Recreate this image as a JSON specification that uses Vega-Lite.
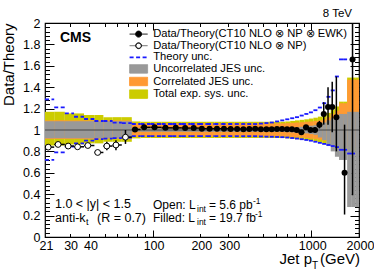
{
  "$schema": "https://vega.github.io/schema/vega-lite/v6.json",
  "width": 314,
  "height": 214,
  "autosize": {"type": "none"},
  "padding": {"left": 45, "top": 23, "right": 15, "bottom": 33},
  "config": {
    "view": {"stroke": "black", "strokeWidth": 1.2},
    "font": "Liberation Sans",
    "axis": {"grid": false, "domain": false, "labelFont": "Liberation Sans", "labelFontSize": 12.5, "labelColor": "black", "tickColor": "black", "tickWidth": 1, "titleFont": "Liberation Sans", "titleFontWeight": "normal", "titleColor": "black"}
  },
  "datasets": {
    "bins": [
      {"lo":21,"hi":24,"pt":22.0,"v":0.84,"el":0.83,"eh":0.85,"tu":1.287,"td":0.72,"yl":0.855,"yh":1.17,"ol":0.915,"oh":1.09,"gl":0.922,"gh":1.082,"s":"o"},
      {"lo":24,"hi":28,"pt":25.4,"v":0.865,"el":0.855,"eh":0.875,"tu":1.212,"td":0.79,"yl":0.855,"yh":1.17,"ol":0.915,"oh":1.09,"gl":0.922,"gh":1.082,"s":"o"},
      {"lo":28,"hi":32,"pt":29.4,"v":0.85,"el":0.84,"eh":0.86,"tu":1.156,"td":0.844,"yl":0.865,"yh":1.155,"ol":0.915,"oh":1.09,"gl":0.922,"gh":1.082,"s":"o"},
      {"lo":32,"hi":37,"pt":33.7,"v":0.843,"el":0.833,"eh":0.853,"tu":1.124,"td":0.875,"yl":0.865,"yh":1.155,"ol":0.915,"oh":1.09,"gl":0.922,"gh":1.082,"s":"o"},
      {"lo":37,"hi":43,"pt":39.1,"v":0.855,"el":0.845,"eh":0.865,"tu":1.103,"td":0.9,"yl":0.875,"yh":1.14,"ol":0.915,"oh":1.09,"gl":0.922,"gh":1.082,"s":"o"},
      {"lo":43,"hi":49,"pt":45.1,"v":0.79,"el":0.775,"eh":0.805,"tu":1.084,"td":0.915,"yl":0.875,"yh":1.14,"ol":0.915,"oh":1.09,"gl":0.922,"gh":1.082,"s":"o"},
      {"lo":49,"hi":56,"pt":51.5,"v":0.85,"el":0.81,"eh":0.89,"tu":1.084,"td":0.92,"yl":0.89,"yh":1.12,"ol":0.915,"oh":1.09,"gl":0.922,"gh":1.082,"s":"o"},
      {"lo":56,"hi":64,"pt":58.8,"v":0.86,"el":0.81,"eh":0.905,"tu":1.068,"td":0.925,"yl":0.89,"yh":1.12,"ol":0.915,"oh":1.09,"gl":0.922,"gh":1.082,"s":"o"},
      {"lo":64,"hi":74,"pt":67.5,"v":0.933,"el":0.87,"eh":1.0,"tu":1.065,"td":0.93,"yl":0.89,"yh":1.12,"ol":0.915,"oh":1.09,"gl":0.922,"gh":1.082,"s":"o"},
      {"lo":74,"hi":84,"pt":77.5,"v":1.005,"el":0.998,"eh":1.012,"tu":1.056,"td":0.942,"yl":0.922,"yh":1.08,"ol":0.937,"oh":1.063,"gl":0.983,"gh":1.017,"s":"f"},
      {"lo":84,"hi":97,"pt":88.5,"v":1.025,"el":1.019,"eh":1.031,"tu":1.056,"td":0.942,"yl":0.925,"yh":1.077,"ol":0.94,"oh":1.062,"gl":0.983,"gh":1.017,"s":"f"},
      {"lo":97,"hi":114,"pt":103,"v":1.025,"el":1.019,"eh":1.031,"tu":1.056,"td":0.942,"yl":0.925,"yh":1.077,"ol":0.94,"oh":1.062,"gl":0.983,"gh":1.017,"s":"f"},
      {"lo":114,"hi":133,"pt":120.6,"v":1.02,"el":1.014,"eh":1.026,"tu":1.056,"td":0.942,"yl":0.925,"yh":1.077,"ol":0.94,"oh":1.062,"gl":0.983,"gh":1.017,"s":"f"},
      {"lo":133,"hi":153,"pt":140,"v":1.02,"el":1.014,"eh":1.026,"tu":1.056,"td":0.942,"yl":0.925,"yh":1.077,"ol":0.94,"oh":1.062,"gl":0.983,"gh":1.017,"s":"f"},
      {"lo":153,"hi":174,"pt":160.4,"v":1.018,"el":1.012,"eh":1.024,"tu":1.056,"td":0.942,"yl":0.925,"yh":1.077,"ol":0.94,"oh":1.062,"gl":0.983,"gh":1.017,"s":"f"},
      {"lo":174,"hi":196,"pt":181.7,"v":1.018,"el":1.012,"eh":1.024,"tu":1.056,"td":0.942,"yl":0.925,"yh":1.077,"ol":0.94,"oh":1.062,"gl":0.983,"gh":1.017,"s":"f"},
      {"lo":196,"hi":220,"pt":204.4,"v":1.012,"el":1.006,"eh":1.018,"tu":1.056,"td":0.942,"yl":0.925,"yh":1.077,"ol":0.94,"oh":1.062,"gl":0.983,"gh":1.017,"s":"f"},
      {"lo":220,"hi":245,"pt":228.8,"v":1.012,"el":1.006,"eh":1.018,"tu":1.056,"td":0.942,"yl":0.925,"yh":1.077,"ol":0.94,"oh":1.062,"gl":0.983,"gh":1.017,"s":"f"},
      {"lo":245,"hi":272,"pt":254.5,"v":1.012,"el":1.006,"eh":1.018,"tu":1.056,"td":0.942,"yl":0.925,"yh":1.077,"ol":0.94,"oh":1.062,"gl":0.983,"gh":1.017,"s":"f"},
      {"lo":272,"hi":300,"pt":281.8,"v":1.012,"el":1.006,"eh":1.018,"tu":1.056,"td":0.942,"yl":0.925,"yh":1.077,"ol":0.94,"oh":1.062,"gl":0.983,"gh":1.017,"s":"f"},
      {"lo":300,"hi":330,"pt":310.5,"v":1.01,"el":1.004,"eh":1.016,"tu":1.056,"td":0.942,"yl":0.925,"yh":1.077,"ol":0.94,"oh":1.062,"gl":0.983,"gh":1.017,"s":"f"},
      {"lo":330,"hi":362,"pt":341.2,"v":1.01,"el":1.004,"eh":1.016,"tu":1.056,"td":0.942,"yl":0.925,"yh":1.077,"ol":0.94,"oh":1.062,"gl":0.983,"gh":1.017,"s":"f"},
      {"lo":362,"hi":395,"pt":373.6,"v":1.008,"el":1.002,"eh":1.014,"tu":1.056,"td":0.942,"yl":0.925,"yh":1.077,"ol":0.94,"oh":1.062,"gl":0.983,"gh":1.017,"s":"f"},
      {"lo":395,"hi":430,"pt":407.3,"v":1.01,"el":1.004,"eh":1.016,"tu":1.056,"td":0.942,"yl":0.925,"yh":1.077,"ol":0.94,"oh":1.062,"gl":0.983,"gh":1.017,"s":"f"},
      {"lo":430,"hi":468,"pt":443.3,"v":1.012,"el":1.006,"eh":1.018,"tu":1.056,"td":0.942,"yl":0.925,"yh":1.077,"ol":0.94,"oh":1.062,"gl":0.983,"gh":1.017,"s":"f"},
      {"lo":468,"hi":507,"pt":481.7,"v":1.006,"el":1.0,"eh":1.012,"tu":1.06,"td":0.94,"yl":0.925,"yh":1.077,"ol":0.94,"oh":1.062,"gl":0.983,"gh":1.017,"s":"f"},
      {"lo":507,"hi":548,"pt":521.4,"v":1.008,"el":1.002,"eh":1.014,"tu":1.065,"td":0.938,"yl":0.925,"yh":1.077,"ol":0.94,"oh":1.062,"gl":0.983,"gh":1.017,"s":"f"},
      {"lo":548,"hi":592,"pt":563.4,"v":1.008,"el":1.002,"eh":1.014,"tu":1.07,"td":0.937,"yl":0.925,"yh":1.077,"ol":0.94,"oh":1.062,"gl":0.983,"gh":1.017,"s":"f"},
      {"lo":592,"hi":638,"pt":608.1,"v":1.01,"el":1.004,"eh":1.016,"tu":1.08,"td":0.935,"yl":0.925,"yh":1.077,"ol":0.94,"oh":1.062,"gl":0.983,"gh":1.017,"s":"f"},
      {"lo":638,"hi":686,"pt":654.8,"v":1.01,"el":1.004,"eh":1.016,"tu":1.09,"td":0.933,"yl":0.925,"yh":1.077,"ol":0.94,"oh":1.062,"gl":0.983,"gh":1.017,"s":"f"},
      {"lo":686,"hi":737,"pt":703.9,"v":1.008,"el":1.002,"eh":1.014,"tu":1.1,"td":0.93,"yl":0.922,"yh":1.08,"ol":0.938,"oh":1.064,"gl":0.98,"gh":1.02,"s":"f"},
      {"lo":737,"hi":790,"pt":755.6,"v":1.006,"el":1.0,"eh":1.012,"tu":1.11,"td":0.925,"yl":0.918,"yh":1.085,"ol":0.935,"oh":1.067,"gl":0.978,"gh":1.022,"s":"f"},
      {"lo":790,"hi":846,"pt":809.6,"v":1.0,"el":0.993,"eh":1.007,"tu":1.12,"td":0.92,"yl":0.914,"yh":1.09,"ol":0.932,"oh":1.07,"gl":0.975,"gh":1.025,"s":"f"},
      {"lo":846,"hi":905,"pt":866.7,"v":0.978,"el":0.966,"eh":0.99,"tu":1.135,"td":0.914,"yl":0.91,"yh":1.095,"ol":0.93,"oh":1.073,"gl":0.972,"gh":1.03,"s":"f"},
      {"lo":905,"hi":967,"pt":926.7,"v":1.025,"el":1.01,"eh":1.04,"tu":1.15,"td":0.907,"yl":0.905,"yh":1.1,"ol":0.925,"oh":1.077,"gl":0.968,"gh":1.035,"s":"f"},
      {"lo":967,"hi":1032,"pt":989.8,"v":1.0,"el":0.98,"eh":1.02,"tu":1.165,"td":0.9,"yl":0.9,"yh":1.107,"ol":0.92,"oh":1.08,"gl":0.962,"gh":1.04,"s":"f"},
      {"lo":1032,"hi":1101,"pt":1056,"v":1.0,"el":0.975,"eh":1.025,"tu":1.185,"td":0.89,"yl":0.892,"yh":1.115,"ol":0.915,"oh":1.085,"gl":0.955,"gh":1.045,"s":"f"},
      {"lo":1101,"hi":1172,"pt":1126,"v":1.05,"el":1.015,"eh":1.085,"tu":1.21,"td":0.88,"yl":0.885,"yh":1.125,"ol":0.91,"oh":1.09,"gl":0.93,"gh":1.055,"s":"f"},
      {"lo":1172,"hi":1248,"pt":1199,"v":1.15,"el":1.05,"eh":1.26,"tu":1.25,"td":0.87,"yl":0.875,"yh":1.14,"ol":0.9,"oh":1.1,"gl":0.905,"gh":1.07,"s":"f"},
      {"lo":1248,"hi":1327,"pt":1276,"v":1.215,"el":1.05,"eh":1.4,"tu":1.31,"td":0.86,"yl":0.86,"yh":1.16,"ol":0.89,"oh":1.12,"gl":0.85,"gh":1.09,"s":"f"},
      {"lo":1327,"hi":1410,"pt":1356,"v":1.215,"el":0.98,"eh":1.45,"tu":1.37,"td":0.85,"yl":0.85,"yh":1.19,"ol":0.88,"oh":1.15,"gl":0.8,"gh":1.11,"s":"f"},
      {"lo":1410,"hi":1497,"pt":1440,"v":1.12,"el":0.8,"eh":1.5,"tu":1.5,"td":0.84,"yl":0.84,"yh":1.22,"ol":0.87,"oh":1.18,"gl":0.75,"gh":1.13,"s":"f"},
      {"lo":1497,"hi":1588,"pt":1529,"v":null,"el":null,"eh":null,"tu":1.66,"td":0.815,"yl":0.83,"yh":1.265,"ol":0.86,"oh":1.25,"gl":0.72,"gh":1.15,"s":"f"},
      {"lo":1588,"hi":1684,"pt":1622,"v":0.6,"el":0.21,"eh":1.05,"tu":1.66,"td":0.815,"yl":0.83,"yh":1.265,"ol":0.86,"oh":1.25,"gl":0.72,"gh":1.15,"s":"f"},
      {"lo":1684,"hi":1784,"pt":1719,"v":null,"el":null,"eh":null,"tu":null,"td":0.78,"yl":0.8,"yh":1.49,"ol":0.84,"oh":1.47,"gl":0.28,"gh":1.17,"s":"f"},
      {"lo":1784,"hi":1890,"pt":1821,"v":1.66,"el":0.39,"eh":2.95,"tu":null,"td":0.78,"yl":0.8,"yh":1.49,"ol":0.84,"oh":1.47,"gl":0.28,"gh":1.17,"s":"f"},
      {"lo":1890,"hi":2000,"pt":1940,"v":null,"el":null,"eh":null,"tu":null,"td":null,"yl":0.8,"yh":1.49,"ol":0.84,"oh":1.47,"gl":0.28,"gh":1.17,"s":"f"}
    ]
  },
  "resolve": {"axis": {"x": "independent", "y": "independent"}},
  "layer": [
    {
      "data": {"name": "bins"},
      "mark": {"type": "rect"},
      "encoding": {
        "x": {"field": "lo", "type": "quantitative", "scale": {"type": "log", "domain": [21, 2000], "nice": false},
              "axis": {"orient": "bottom", "values": [21, 30, 40, 100, 200, 300, 1000, 2000], "format": "d", "ticks": false, "labelFlush": false, "labelOverlap": false, "labelPadding": 2, "labelOffset": 1, "title": null}},
        "x2": {"field": "hi"},
        "y": {"field": "yl", "type": "quantitative", "scale": {"domain": [0, 2], "nice": false},
              "axis": {"orient": "left", "values": [0, 0.2, 0.4, 0.6, 0.8, 1, 1.2, 1.4, 1.6, 1.8, 2], "format": ".2~f", "ticks": false, "labelPadding": 5,
                       "title": "Data/Theory", "titleFontSize": 15, "titleAngle": -90, "titleAlign": "right", "titleBaseline": "middle", "titleX": -37, "titleY": 0}},
        "y2": {"field": "yh"},
        "color": {"datum": "Total exp. sys. unc.", "type": "nominal",
                  "scale": {"domain": ["Data/Theory(CT10 NLO ⊗ NP ⊗ EWK)", "Data/Theory(CT10 NLO ⊗ NP)", "Theory unc.", "Uncorrelated JES unc.", "Correlated JES unc.", "Total exp. sys. unc."],
                            "range": ["black", "black", "#1a1aff", "#999999", "#ff9933", "#cccc00"]},
                  "legend": {"orient": "none", "legendX": 88, "legendY": 5.5, "title": null, "padding": 0,
                             "labelFont": "Liberation Sans", "labelFontSize": 11.2, "labelColor": "black", "labelLimit": 400,
                             "symbolSize": 36, "rowPadding": -0.4, "labelOffset": 9,
                             "encode": {"symbols": {"update": {
                               "shape": {"signal": "datum.index == 2 ? 'M-3,0H3' : (datum.index > 2 ? 'M-3,-1.4H3V1.4H-3Z' : (datum.index == 1 ? 'M-3,0H-1M1,0H3M1,0A1,1,0,1,1,-1,0A1,1,0,1,1,1,0M0.85,0A0.85,0.85,0,1,0,-0.85,0A0.85,0.85,0,1,0,0.85,0' : 'M-3,0H-1M1,0H3M1,0A1,1,0,1,1,-1,0A1,1,0,1,1,1,0'))"},
                               "size": {"value": 36},
                               "fill": {"signal": "['black','black','transparent','#999999','#ff9933','#cccc00'][datum.index]"},
                               "stroke": {"signal": "['black','black','#1a1aff','#999999','#ff9933','#cccc00'][datum.index]"},
                               "strokeWidth": {"signal": "datum.index == 2 ? 1.8 : (datum.index == 1 ? 0.6 : 1)"},
                               "strokeDash": {"signal": "datum.index == 2 ? [4, 2.5] : [1, 0]"},
                               "opacity": {"value": 1},
                               "fillOpacity": {"value": 1}
                             }}}}}
      }
    },
    {
      "data": {"name": "bins"},
      "mark": {"type": "rect"},
      "encoding": {
        "x": {"field": "lo", "type": "quantitative", "axis": {"orient": "bottom", "values": [100, 1000], "labels": false, "tickSize": -7, "title": null}},
        "x2": {"field": "hi"},
        "y": {"field": "ol", "type": "quantitative", "axis": {"orient": "left", "values": [0, 0.2, 0.4, 0.6, 0.8, 1, 1.2, 1.4, 1.6, 1.8, 2], "labels": false, "tickSize": -9, "title": null}},
        "y2": {"field": "oh"},
        "color": {"datum": "Correlated JES unc.", "type": "nominal"}
      }
    },
    {
      "data": {"name": "bins"},
      "mark": {"type": "rect"},
      "encoding": {
        "x": {"field": "lo", "type": "quantitative", "axis": {"orient": "bottom", "values": [30, 40, 50, 60, 70, 80, 90, 200, 300, 400, 500, 600, 700, 800, 900, 2000], "labels": false, "tickSize": -3.5, "title": null}},
        "x2": {"field": "hi"},
        "y": {"field": "gl", "type": "quantitative", "axis": {"orient": "left", "values": [0.04,0.08,0.12,0.16,0.24,0.28,0.32,0.36,0.44,0.48,0.52,0.56,0.64,0.68,0.72,0.76,0.84,0.88,0.92,0.96,1.04,1.08,1.12,1.16,1.24,1.28,1.32,1.36,1.44,1.48,1.52,1.56,1.64,1.68,1.72,1.76,1.84,1.88,1.92,1.96], "labels": false, "tickSize": -4.5, "title": null}},
        "y2": {"field": "gh"},
        "color": {"datum": "Uncorrelated JES unc.", "type": "nominal"}
      }
    },
    {
      "data": {"values": [{}]},
      "mark": {"type": "rule", "color": "#444444", "strokeWidth": 1},
      "encoding": {"y": {"datum": 1, "type": "quantitative", "axis": null}}
    },
    {
      "data": {"name": "bins"},
      "mark": {"type": "rule", "strokeWidth": 1.8, "strokeDash": [4, 2.5]},
      "encoding": {
        "x": {"field": "lo", "type": "quantitative", "axis": {"orient": "top", "values": [100, 1000], "labels": false, "tickSize": -7, "title": null}},
        "x2": {"field": "hi"},
        "y": {"field": "tu", "type": "quantitative", "axis": {"orient": "right", "values": [0, 0.2, 0.4, 0.6, 0.8, 1, 1.2, 1.4, 1.6, 1.8, 2], "labels": false, "tickSize": -9, "title": null}},
        "color": {"datum": "Theory unc.", "type": "nominal"}
      }
    },
    {
      "data": {"name": "bins"},
      "mark": {"type": "rule", "strokeWidth": 1.8, "strokeDash": [4, 2.5]},
      "encoding": {
        "x": {"field": "lo", "type": "quantitative", "axis": {"orient": "top", "values": [30, 40, 50, 60, 70, 80, 90, 200, 300, 400, 500, 600, 700, 800, 900, 2000], "labels": false, "tickSize": -3.5, "title": null}},
        "x2": {"field": "hi"},
        "y": {"field": "td", "type": "quantitative", "axis": {"orient": "right", "values": [0.04,0.08,0.12,0.16,0.24,0.28,0.32,0.36,0.44,0.48,0.52,0.56,0.64,0.68,0.72,0.76,0.84,0.88,0.92,0.96,1.04,1.08,1.12,1.16,1.24,1.28,1.32,1.36,1.44,1.48,1.52,1.56,1.64,1.68,1.72,1.76,1.84,1.88,1.92,1.96], "labels": false, "tickSize": -4.5, "title": null}},
        "color": {"datum": "Theory unc.", "type": "nominal"}
      }
    },
    {
      "data": {"name": "bins"},
      "transform": [{"filter": "datum.v != null"}],
      "mark": {"type": "rule", "color": "black", "strokeWidth": 1.5, "clip": true},
      "encoding": {
        "x": {"field": "pt", "type": "quantitative", "axis": null},
        "y": {"field": "el", "type": "quantitative", "axis": null},
        "y2": {"field": "eh"}
      }
    },
    {
      "data": {"name": "bins"},
      "transform": [{"filter": "datum.v != null"}],
      "mark": {"type": "rule", "color": "black", "strokeWidth": 1.5},
      "encoding": {
        "x": {"field": "lo", "type": "quantitative", "axis": null},
        "x2": {"field": "hi"},
        "y": {"field": "v", "type": "quantitative", "axis": null}
      }
    },
    {
      "data": {"name": "bins"},
      "transform": [{"filter": "datum.v != null && datum.s == 'f'"}],
      "mark": {"type": "point", "shape": "circle", "filled": true, "size": 36, "opacity": 1},
      "encoding": {
        "x": {"field": "pt", "type": "quantitative", "axis": null},
        "y": {"field": "v", "type": "quantitative", "axis": null},
        "color": {"datum": "Data/Theory(CT10 NLO ⊗ NP ⊗ EWK)", "type": "nominal"}
      }
    },
    {
      "data": {"name": "bins"},
      "transform": [{"filter": "datum.v != null && datum.s == 'o'"}],
      "mark": {"type": "point", "shape": "circle", "filled": false, "fill": "white", "fillOpacity": 1, "strokeWidth": 1, "size": 34, "opacity": 1},
      "encoding": {
        "x": {"field": "pt", "type": "quantitative", "axis": null},
        "y": {"field": "v", "type": "quantitative", "axis": null},
        "color": {"datum": "Data/Theory(CT10 NLO ⊗ NP)", "type": "nominal"}
      }
    },
    {
      "data": {"values": [{}]},
      "mark": {"type": "text", "text": "CMS", "font": "Liberation Sans", "fontWeight": "bold", "fontSize": 14, "align": "left", "baseline": "alphabetic", "dx": 15, "dy": 19, "color": "black"},
      "encoding": {"x": {"datum": 21, "type": "quantitative", "axis": null}, "y": {"datum": 2, "type": "quantitative", "axis": null}}
    },
    {
      "data": {"values": [{}]},
      "mark": {"type": "text", "text": "8 TeV", "font": "Liberation Sans", "fontSize": 11.5, "align": "right", "baseline": "alphabetic", "dx": -7, "dy": -6, "color": "black"},
      "encoding": {"x": {"datum": 2000, "type": "quantitative", "axis": null}, "y": {"datum": 2, "type": "quantitative", "axis": null}}
    },
    {
      "data": {"values": [{}]},
      "mark": {"type": "text", "text": "1.0 < |y| < 1.5", "font": "Liberation Sans", "fontSize": 12.5, "align": "left", "baseline": "alphabetic", "dx": 10, "dy": -29, "color": "black"},
      "encoding": {"x": {"datum": 21, "type": "quantitative", "axis": null}, "y": {"datum": 0, "type": "quantitative", "axis": null}}
    },
    {
      "data": {"values": [{}]},
      "mark": {"type": "text", "text": "anti-k", "font": "Liberation Sans", "fontSize": 12.5, "align": "left", "baseline": "alphabetic", "dx": 10, "dy": -15, "color": "black"},
      "encoding": {"x": {"datum": 21, "type": "quantitative", "axis": null}, "y": {"datum": 0, "type": "quantitative", "axis": null}}
    },
    {
      "data": {"values": [{}]},
      "mark": {"type": "text", "text": "t", "font": "Liberation Sans", "fontSize": 9, "align": "left", "baseline": "alphabetic", "dx": 41, "dy": -12, "color": "black"},
      "encoding": {"x": {"datum": 21, "type": "quantitative", "axis": null}, "y": {"datum": 0, "type": "quantitative", "axis": null}}
    },
    {
      "data": {"values": [{}]},
      "mark": {"type": "text", "text": "(R = 0.7)", "font": "Liberation Sans", "fontSize": 12.5, "align": "left", "baseline": "alphabetic", "dx": 52, "dy": -15, "color": "black"},
      "encoding": {"x": {"datum": 21, "type": "quantitative", "axis": null}, "y": {"datum": 0, "type": "quantitative", "axis": null}}
    },
    {
      "data": {"values": [{}]},
      "mark": {"type": "text", "text": "Open: L", "font": "Liberation Sans", "fontSize": 12, "align": "left", "baseline": "alphabetic", "dx": 108, "dy": -28, "color": "black"},
      "encoding": {"x": {"datum": 21, "type": "quantitative", "axis": null}, "y": {"datum": 0, "type": "quantitative", "axis": null}}
    },
    {
      "data": {"values": [{}]},
      "mark": {"type": "text", "text": "int", "font": "Liberation Sans", "fontSize": 8.5, "align": "left", "baseline": "alphabetic", "dx": 152, "dy": -25, "color": "black"},
      "encoding": {"x": {"datum": 21, "type": "quantitative", "axis": null}, "y": {"datum": 0, "type": "quantitative", "axis": null}}
    },
    {
      "data": {"values": [{}]},
      "mark": {"type": "text", "text": "= 5.6 pb", "font": "Liberation Sans", "fontSize": 12, "align": "left", "baseline": "alphabetic", "dx": 164, "dy": -28, "color": "black"},
      "encoding": {"x": {"datum": 21, "type": "quantitative", "axis": null}, "y": {"datum": 0, "type": "quantitative", "axis": null}}
    },
    {
      "data": {"values": [{}]},
      "mark": {"type": "text", "text": "-1", "font": "Liberation Sans", "fontSize": 8.5, "align": "left", "baseline": "alphabetic", "dx": 208, "dy": -33, "color": "black"},
      "encoding": {"x": {"datum": 21, "type": "quantitative", "axis": null}, "y": {"datum": 0, "type": "quantitative", "axis": null}}
    },
    {
      "data": {"values": [{}]},
      "mark": {"type": "text", "text": "Filled: L", "font": "Liberation Sans", "fontSize": 12, "align": "left", "baseline": "alphabetic", "dx": 108, "dy": -15, "color": "black"},
      "encoding": {"x": {"datum": 21, "type": "quantitative", "axis": null}, "y": {"datum": 0, "type": "quantitative", "axis": null}}
    },
    {
      "data": {"values": [{}]},
      "mark": {"type": "text", "text": "int", "font": "Liberation Sans", "fontSize": 8.5, "align": "left", "baseline": "alphabetic", "dx": 152, "dy": -12, "color": "black"},
      "encoding": {"x": {"datum": 21, "type": "quantitative", "axis": null}, "y": {"datum": 0, "type": "quantitative", "axis": null}}
    },
    {
      "data": {"values": [{}]},
      "mark": {"type": "text", "text": "= 19.7 fb", "font": "Liberation Sans", "fontSize": 12, "align": "left", "baseline": "alphabetic", "dx": 164, "dy": -15, "color": "black"},
      "encoding": {"x": {"datum": 21, "type": "quantitative", "axis": null}, "y": {"datum": 0, "type": "quantitative", "axis": null}}
    },
    {
      "data": {"values": [{}]},
      "mark": {"type": "text", "text": "-1", "font": "Liberation Sans", "fontSize": 8.5, "align": "left", "baseline": "alphabetic", "dx": 210, "dy": -20, "color": "black"},
      "encoding": {"x": {"datum": 21, "type": "quantitative", "axis": null}, "y": {"datum": 0, "type": "quantitative", "axis": null}}
    },
    {
      "data": {"values": [{}]},
      "mark": {"type": "text", "text": "(GeV)", "font": "Liberation Sans", "fontSize": 15, "align": "right", "baseline": "alphabetic", "dx": 1, "dy": 27, "color": "black"},
      "encoding": {"x": {"datum": 2000, "type": "quantitative", "axis": null}, "y": {"datum": 0, "type": "quantitative", "axis": null}}
    },
    {
      "data": {"values": [{}]},
      "mark": {"type": "text", "text": "T", "font": "Liberation Sans", "fontSize": 10, "align": "center", "baseline": "alphabetic", "dx": -44, "dy": 32, "color": "black"},
      "encoding": {"x": {"datum": 2000, "type": "quantitative", "axis": null}, "y": {"datum": 0, "type": "quantitative", "axis": null}}
    },
    {
      "data": {"values": [{}]},
      "mark": {"type": "text", "text": "Jet p", "font": "Liberation Sans", "fontSize": 15, "align": "right", "baseline": "alphabetic", "dx": -47, "dy": 27, "color": "black"},
      "encoding": {"x": {"datum": 2000, "type": "quantitative", "axis": null}, "y": {"datum": 0, "type": "quantitative", "axis": null}}
    }
  ]
}
